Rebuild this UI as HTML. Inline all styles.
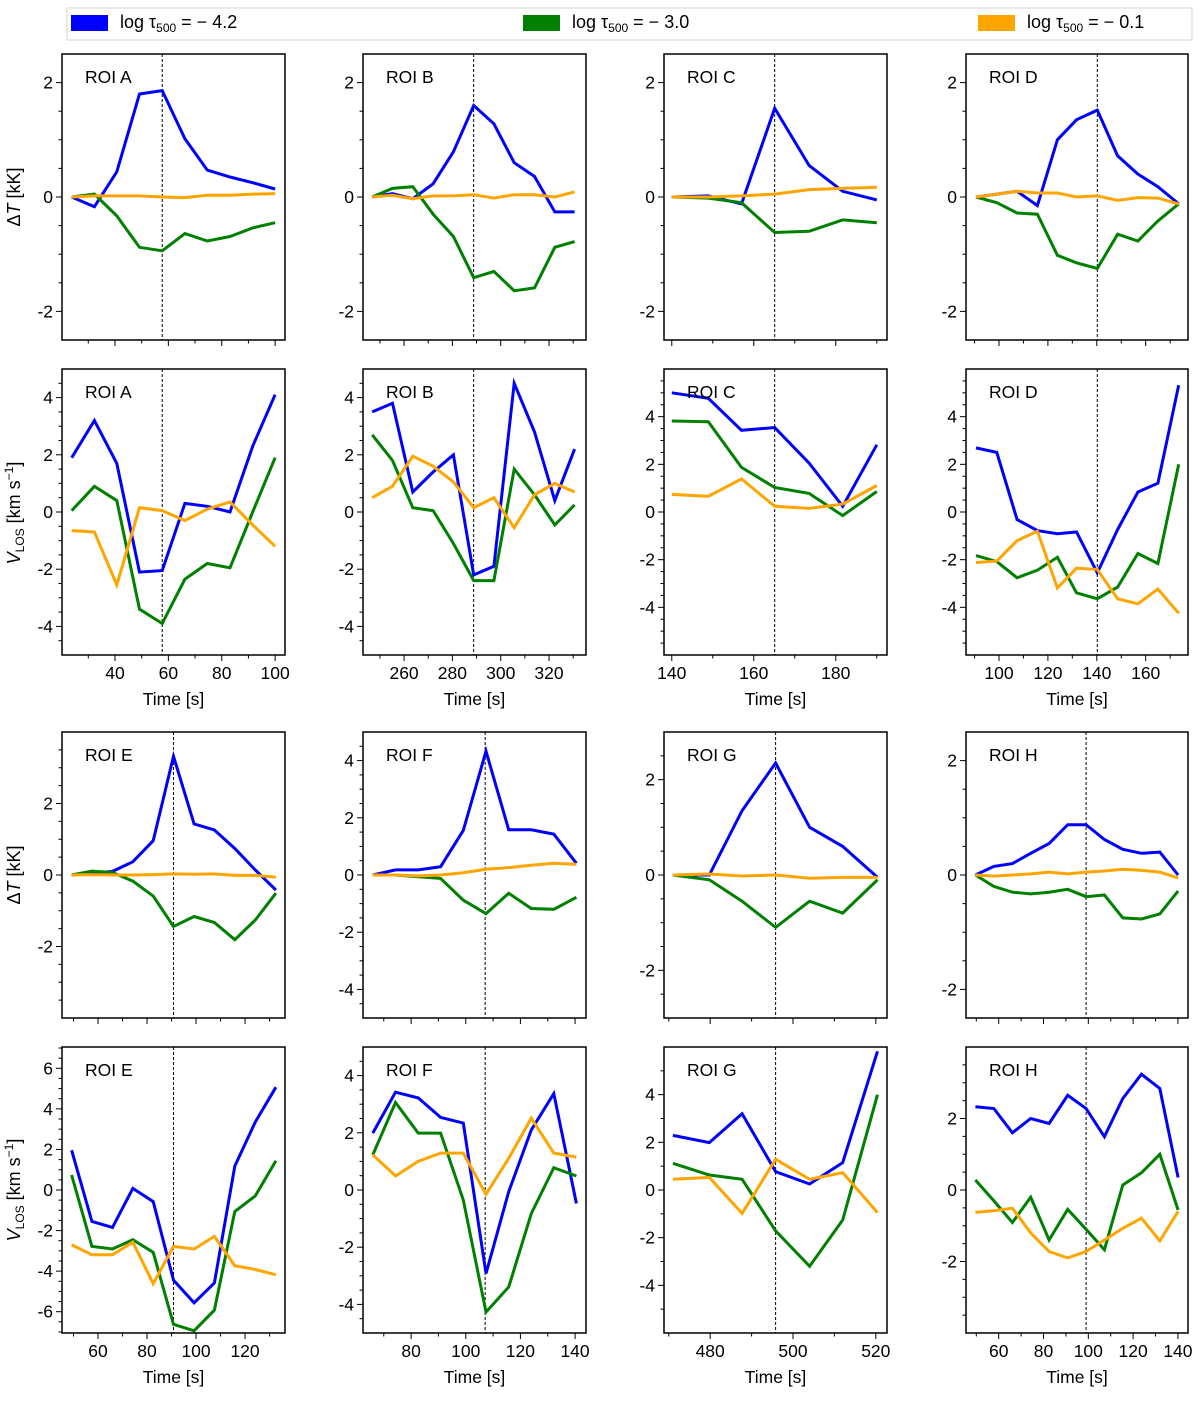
<!DOCTYPE html>
<html><head><meta charset="utf-8"><style>
html,body{margin:0;padding:0;background:#fff;}
svg{display:block;font-family:"Liberation Sans","DejaVu Sans",sans-serif;}
</style></head><body>
<svg id="fig" width="1200" height="1401" viewBox="0 0 1200 1401" xmlns="http://www.w3.org/2000/svg">
<g>
<rect x="67" y="8" width="1125" height="32" fill="#fff" stroke="#ddd" stroke-width="1.2"/>
<g><rect x="71" y="15" width="37" height="16" fill="#0000ff"/><text x="120" y="28" font-size="18">log τ<tspan font-size="12" dy="4">500</tspan><tspan dy="-4"> = − 4.2</tspan></text></g>
<g><rect x="523" y="15" width="37" height="16" fill="#008000"/><text x="572" y="28" font-size="18">log τ<tspan font-size="12" dy="4">500</tspan><tspan dy="-4"> = − 3.0</tspan></text></g>
<g><rect x="978" y="15" width="37" height="16" fill="#ffa500"/><text x="1027" y="28" font-size="18">log τ<tspan font-size="12" dy="4">500</tspan><tspan dy="-4"> = − 0.1</tspan></text></g>
</g>
<text transform="translate(20,197) rotate(-90)" text-anchor="middle" font-size="18">Δ<tspan font-style="italic">T</tspan> [kK]</text>
<text transform="translate(20,513) rotate(-90)" text-anchor="middle" font-size="18"><tspan font-style="italic">V</tspan><tspan font-size="12" dy="4">LOS</tspan><tspan dy="-4"> [km s</tspan><tspan font-size="12" dy="-7">−1</tspan><tspan dy="7">]</tspan></text>
<text transform="translate(20,875) rotate(-90)" text-anchor="middle" font-size="18">Δ<tspan font-style="italic">T</tspan> [kK]</text>
<text transform="translate(20,1190) rotate(-90)" text-anchor="middle" font-size="18"><tspan font-style="italic">V</tspan><tspan font-size="12" dy="4">LOS</tspan><tspan dy="-4"> [km s</tspan><tspan font-size="12" dy="-7">−1</tspan><tspan dy="7">]</tspan></text>
</svg>
<script>
// ---- data ----
const tA=[23.8,32.3,40.7,49.2,57.7,66.2,74.6,83.1,91.6,100];
const A_dT_blue=[0,-0.17,0.44,1.8,1.86,1.02,0.47,0.35,0.25,0.14];
const A_dT_green=[0,0.05,-0.33,-0.88,-0.94,-0.64,-0.77,-0.69,-0.54,-0.45];
const A_dT_orange=[0,0.02,0.02,0.02,0.0,-0.01,0.03,0.03,0.05,0.06];
const A_v_blue=[1.9,3.2,1.7,-2.1,-2.05,0.3,0.2,0.0,2.3,4.1];
const A_v_green=[0.05,0.9,0.4,-3.4,-3.9,-2.35,-1.8,-1.95,0.0,1.9];
const A_v_orange=[-0.65,-0.7,-2.55,0.15,0.05,-0.3,0.1,0.35,-0.45,-1.2];
const tB=[246.8,255.2,263.6,272,280.4,288.8,297.2,305.6,314,322.4,330.6];
const B_dT_blue=[0,0.06,-0.03,0.23,0.79,1.6,1.28,0.6,0.36,-0.26,-0.26];
const B_dT_green=[0,0.15,0.18,-0.3,-0.69,-1.41,-1.3,-1.64,-1.59,-0.88,-0.78];
const B_dT_orange=[0,0.03,-0.03,0.02,0.02,0.04,-0.02,0.04,0.04,0,0.09];
const B_v_blue=[3.5,3.8,0.7,1.4,2.0,-2.2,-1.9,4.5,2.8,0.4,2.2];
const B_v_green=[2.7,1.8,0.15,0.05,-1.1,-2.4,-2.4,1.5,0.6,-0.45,0.25];
const B_v_orange=[0.5,0.9,1.95,1.6,1.05,0.15,0.5,-0.55,0.6,1.0,0.7];
const tC=[140,148.9,157,165.1,173.5,181.7,190];
const C_dT_blue=[0,0.02,-0.12,1.55,0.55,0.1,-0.05];
const C_dT_green=[0,-0.02,-0.1,-0.62,-0.6,-0.4,-0.45];
const C_dT_orange=[0,0,0.02,0.05,0.13,0.15,0.17];
const C_v_blue=[5.0,4.77,3.43,3.54,2.05,0.24,2.82];
const C_v_green=[3.82,3.79,1.87,1.03,0.78,-0.15,0.86];
const C_v_orange=[0.74,0.66,1.39,0.24,0.15,0.33,1.11];
const tD=[90.6,99.1,107.4,115.7,123.9,131.7,140.2,148.5,156.8,165,173.5];
const D_dT_blue=[0,0.05,0.1,-0.15,1.0,1.35,1.52,0.72,0.4,0.18,-0.12];
const D_dT_green=[0,-0.1,-0.28,-0.3,-1.02,-1.15,-1.25,-0.65,-0.77,-0.42,-0.12];
const D_dT_orange=[0,0.05,0.1,0.07,0.07,0.0,0.02,-0.06,-0.01,-0.02,-0.12];
const D_v_blue=[2.69,2.5,-0.32,-0.78,-0.91,-0.84,-2.55,-0.74,0.84,1.21,5.32];
const D_v_green=[-1.83,-2.08,-2.76,-2.44,-1.9,-3.39,-3.64,-3.15,-1.74,-2.16,2.0];
const D_v_orange=[-2.12,-2.06,-1.2,-0.81,-3.19,-2.36,-2.41,-3.64,-3.85,-3.23,-4.25];
const tE=[49.2,57.5,65.9,74.2,82.5,90.8,99.2,107.5,115.8,124.2,132.6];
const E_dT_blue=[0,0.05,0.1,0.37,0.96,3.32,1.43,1.26,0.74,0.14,-0.42];
const E_dT_green=[0,0.11,0.07,-0.17,-0.59,-1.44,-1.16,-1.33,-1.81,-1.26,-0.51];
const E_dT_orange=[0,0.01,0,0,0.01,0.03,0.02,0.03,-0.01,-0.01,-0.06];
const E_v_blue=[1.96,-1.55,-1.85,0.08,-0.57,-4.44,-5.56,-4.58,1.18,3.35,5.07];
const E_v_green=[0.74,-2.78,-2.91,-2.45,-3.07,-6.62,-6.94,-5.92,-1.06,-0.29,1.44];
const E_v_orange=[-2.7,-3.19,-3.19,-2.57,-4.62,-2.78,-2.91,-2.29,-3.73,-3.92,-4.18];
const tF=[66,74.3,82.6,90.8,99.1,107.4,115.7,124,132.2,140.5];
const F_dT_blue=[0,0.18,0.18,0.29,1.56,4.33,1.58,1.58,1.43,0.41];
const F_dT_green=[0,0,-0.06,-0.12,-0.88,-1.35,-0.64,-1.17,-1.2,-0.78];
const F_dT_orange=[0,0,-0.03,0,0.08,0.2,0.26,0.34,0.41,0.37];
const F_v_blue=[1.99,3.42,3.22,2.54,2.34,-2.92,-0.06,2.1,3.37,-0.47];
const F_v_green=[1.23,3.06,1.99,1.99,-0.35,-4.27,-3.39,-0.82,0.78,0.49];
const F_v_orange=[1.23,0.49,1.0,1.29,1.29,-0.15,1.11,2.51,1.29,1.15];
const tG=[471,479.8,487.7,495.8,504,512,520.4];
const G_dT_blue=[0,0,1.35,2.35,1.0,0.6,-0.05];
const G_dT_green=[0,-0.1,-0.55,-1.1,-0.55,-0.8,-0.1];
const G_dT_orange=[0,0.02,-0.02,0,-0.07,-0.05,-0.05];
const G_v_blue=[2.29,1.99,3.2,0.77,0.25,1.15,5.82];
const G_v_green=[1.12,0.63,0.45,-1.71,-3.2,-1.26,4.0];
const G_v_orange=[0.45,0.53,-0.98,1.29,0.45,0.73,-0.95];
const tH=[49.6,57.8,66.1,74.3,82.5,90.8,99,107.2,115.4,123.7,131.9,140.1];
const H_dT_blue=[0,0.15,0.2,0.38,0.55,0.88,0.88,0.62,0.45,0.38,0.4,0.0];
const H_dT_green=[0,-0.2,-0.3,-0.33,-0.3,-0.25,-0.38,-0.35,-0.75,-0.77,-0.68,-0.28];
const H_dT_orange=[0,-0.02,0,0.02,0.05,0.02,0.05,0.07,0.1,0.08,0.05,-0.05];
const H_v_blue=[2.33,2.28,1.6,2.0,1.86,2.65,2.28,1.49,2.56,3.24,2.84,0.35];
const H_v_green=[0.28,-0.3,-0.91,-0.2,-1.4,-0.54,-1.1,-1.67,0.14,0.48,1.0,-0.56];
const H_v_orange=[-0.62,-0.58,-0.51,-1.2,-1.72,-1.9,-1.72,-1.4,-1.07,-0.79,-1.42,-0.6];
const eventTimes=[57.7,288.8,165.1,140.2,90.8,107.1,495.8,99];
const roiNames=["A","B","C","D","E","F","G","H"];

// ---- layout ----
const colX=[62,363,664,966], colW=[223,223,223,222];
const rowY=[54,369,732,1047], rowH=286;
const xDom={A:[20.15,103.7],B:[243,335.3],C:[138.1,192.5],D:[86.5,177.3],E:[45.3,136.3],F:[62.4,144],G:[468.85,522.7],H:[45.4,144.5]};
const panels=[
 {roi:"A",row:0,col:0,y:[-2.5,2.5],s:[A_dT_blue,A_dT_green,A_dT_orange],t:tA},
 {roi:"B",row:0,col:1,y:[-2.5,2.5],s:[B_dT_blue,B_dT_green,B_dT_orange],t:tB},
 {roi:"C",row:0,col:2,y:[-2.5,2.5],s:[C_dT_blue,C_dT_green,C_dT_orange],t:tC},
 {roi:"D",row:0,col:3,y:[-2.5,2.5],s:[D_dT_blue,D_dT_green,D_dT_orange],t:tD},
 {roi:"A",row:1,col:0,y:[-5,5],s:[A_v_blue,A_v_green,A_v_orange],t:tA},
 {roi:"B",row:1,col:1,y:[-5,5],s:[B_v_blue,B_v_green,B_v_orange],t:tB},
 {roi:"C",row:1,col:2,y:[-6,6],s:[C_v_blue,C_v_green,C_v_orange],t:tC},
 {roi:"D",row:1,col:3,y:[-6,6],s:[D_v_blue,D_v_green,D_v_orange],t:tD},
 {roi:"E",row:2,col:0,y:[-4,4],s:[E_dT_blue,E_dT_green,E_dT_orange],t:tE},
 {roi:"F",row:2,col:1,y:[-5,5],s:[F_dT_blue,F_dT_green,F_dT_orange],t:tF},
 {roi:"G",row:2,col:2,y:[-3,3],s:[G_dT_blue,G_dT_green,G_dT_orange],t:tG},
 {roi:"H",row:2,col:3,y:[-2.5,2.5],s:[H_dT_blue,H_dT_green,H_dT_orange],t:tH},
 {roi:"E",row:3,col:0,y:[-7.05,7.05],s:[E_v_blue,E_v_green,E_v_orange],t:tE},
 {roi:"F",row:3,col:1,y:[-5,5],s:[F_v_blue,F_v_green,F_v_orange],t:tF},
 {roi:"G",row:3,col:2,y:[-6,6],s:[G_v_blue,G_v_green,G_v_orange],t:tG,ymin:1},
 {roi:"H",row:3,col:3,y:[-4,4],s:[H_v_blue,H_v_green,H_v_orange],t:tH}
];
const colors=["#0000ff","#008000","#ffa500"];
const NS="http://www.w3.org/2000/svg";
const svg=document.getElementById("fig");
function mk(tag,attrs,parent){const e=document.createElementNS(NS,tag);for(const k in attrs)e.setAttribute(k,attrs[k]);parent.appendChild(e);return e;}

panels.forEach(p=>{
  const x0=colX[p.col], w=colW[p.col], y0=rowY[p.row], h=rowH;
  const [tmin,tmax]=xDom[p.roi];
  const sx=t=>x0+(t-tmin)/(tmax-tmin)*w;
  const sy=v=>y0+h-(v-p.y[0])/(p.y[1]-p.y[0])*h;
  const g=mk("g",{},svg);
  
  
  const cid="c"+p.row+p.col;
  const cp=mk("clipPath",{id:cid},g); mk("rect",{x:x0,y:y0,width:w,height:h},cp);
  const minorStep=p.ymin||0.5;
  for(let v=Math.ceil(p.y[0]/minorStep)*minorStep; v<=p.y[1]+1e-9; v+=minorStep){
    const vv=Math.round(v*100)/100;
    if(Math.abs(vv-p.y[0])<1e-6||Math.abs(vv-p.y[1])<1e-6) continue;
    const major=Math.abs(vv/2-Math.round(vv/2))<1e-6;
    const tk=mk("line",{x1:x0,x2:x0-(major?6:3.5),y1:sy(vv),y2:sy(vv),stroke:"#000","stroke-width":1},g);
    
    
    if(major){
      const lb=mk("text",{x:x0-9,y:sy(vv)+6,"text-anchor":"end","font-size":"17.5"},g);
      lb.textContent=String(vv);
      
      
    }
  }
  for(let t=Math.ceil(tmin/10)*10;t<=tmax;t+=10){
    const major=t%20===0;
    const tk=mk("line",{x1:sx(t),x2:sx(t),y1:y0+h,y2:y0+h+(major?6:3.5),stroke:"#000","stroke-width":1},g);
    
    
    if(major && (p.row===1||p.row===3)){
      const lb=mk("text",{x:sx(t),y:y0+h+24,"text-anchor":"middle","font-size":"17.5"},g);
      lb.textContent=String(t);
      
      
    }
  }
  if(p.row===1||p.row===3){
    const xl=mk("text",{x:x0+w/2,y:y0+h+50,"text-anchor":"middle","font-size":"17.5"},g);
    xl.textContent="Time [s]";
    
    
  }
  const ev=eventTimes[roiNames.indexOf(p.roi)];
  const el=mk("line",{x1:sx(ev),x2:sx(ev),y1:y0,y2:y0+h,stroke:"#000","stroke-width":1,"stroke-dasharray":"3,2"},g);
  
  
  const names=["tau-4.2","tau-3.0","tau-0.1"];
  p.s.forEach((vals,i)=>{
    const d=vals.map((v,j)=>(j?"L":"M")+sx(p.t[j]).toFixed(1)+","+sy(v).toFixed(1)).join(" ");
    const ln=mk("path",{d:d,fill:"none",stroke:colors[i],"stroke-width":3,"stroke-linejoin":"miter","clip-path":"url(#"+cid+")"},g);
    
    
  });
  const fr=mk("rect",{x:x0,y:y0,width:w,height:h,fill:"none",stroke:"#000","stroke-width":1.5},g);
  
  
  const rt=mk("text",{x:x0+23,y:y0+29,"font-size":"17.5"},g);
  rt.textContent="ROI "+p.roi;
  
  
});
</script>
</body></html>
